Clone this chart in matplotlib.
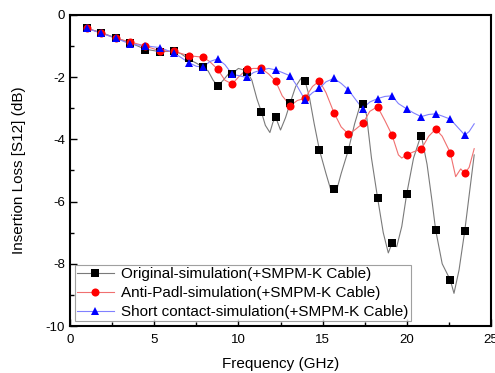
import matplotlib
matplotlib.use("Agg")
import matplotlib.pyplot as plt
from matplotlib.lines import Line2D

plt.rcParams['font.family'] = ['Liberation Sans', 'DejaVu Sans']
plt.rcParams['axes.unicode_minus'] = False

# marker frequencies (GHz)
marker_freq = [1.00, 1.86, 2.73, 3.59, 4.45, 5.32, 6.18, 7.04, 7.90, 8.77, 9.63, 10.49,
               11.36, 12.22, 13.08, 13.95, 14.81, 15.67, 16.53, 17.40, 18.26, 19.12,
               19.99, 20.85, 21.71, 22.58, 23.44]

orig_markers = [-0.43, -0.57, -0.74, -0.90, -1.13, -1.18, -1.16, -1.40, -1.68, -2.28, -1.90, -1.84,
                -3.11, -3.27, -2.82, -2.11, -4.34, -5.60, -4.34, -2.86, -5.87, -7.34,
                -5.76, -3.89, -6.91, -8.52, -6.94]
anti_markers = [-0.43, -0.58, -0.75, -0.87, -1.00, -1.17, -1.16, -1.31, -1.36, -1.75, -2.22, -1.75,
                -1.72, -2.14, -2.92, -2.68, -2.12, -3.14, -3.83, -3.48, -2.95, -3.86,
                -4.50, -4.32, -3.67, -4.43, -5.09]
short_markers = [-0.43, -0.59, -0.75, -0.94, -0.99, -1.05, -1.22, -1.53, -1.68, -1.41, -1.91, -2.01,
                 -1.77, -1.77, -1.96, -2.73, -2.36, -2.04, -2.41, -3.01, -2.69, -2.60,
                 -3.02, -3.27, -3.18, -3.35, -3.86]

# simulated curves
orig_line_f = [1.0, 1.86, 2.73, 3.59, 4.45, 5.32, 6.18, 6.6, 7.04, 7.5, 7.9, 8.2, 8.5, 8.77, 9.1, 9.4,
               9.63, 10.0, 10.49, 10.8, 11.1, 11.36, 11.6, 11.87, 12.05, 12.22, 12.5, 12.8, 13.08,
               13.4, 13.7, 13.95, 14.2, 14.5, 14.81, 15.2, 15.5, 15.8, 16.1, 16.53, 16.9, 17.2,
               17.37, 17.6, 17.9, 18.26, 18.6, 18.9, 19.12, 19.4, 19.7, 19.99, 20.4, 20.85, 21.2,
               21.5, 21.71, 22.1, 22.58, 22.8, 23.1, 23.44, 23.7, 24.0]
orig_line_v = [-0.43, -0.57, -0.74, -0.90, -1.10, -1.18, -1.17, -1.25, -1.42, -1.55, -1.68, -1.80,
               -2.10, -2.28, -2.10, -1.90, -1.88, -1.72, -1.80, -2.10, -2.70, -3.11, -3.55, -3.78,
               -3.45, -3.30, -3.70, -3.30, -2.82, -2.30, -2.05, -2.11, -2.60, -3.50, -4.34, -5.10,
               -5.65, -5.70, -5.10, -4.34, -3.50, -2.95, -2.86, -3.20, -4.60, -5.87, -7.00, -7.65,
               -7.34, -7.45, -6.80, -5.76, -4.60, -3.85, -4.80, -6.00, -6.91, -8.00, -8.52, -8.95,
               -8.20, -6.94, -5.80, -4.50]

anti_line_f = [1.0, 1.86, 2.73, 3.59, 4.45, 5.32, 6.18, 7.04, 7.9, 8.3, 8.77, 9.2, 9.63, 10.0, 10.49,
               10.9, 11.36, 11.8, 12.22, 12.6, 13.08, 13.5, 13.95, 14.4, 14.81, 15.2, 15.67, 16.1,
               16.53, 16.9, 17.4, 17.8, 18.26, 18.7, 19.12, 19.5, 19.7, 19.99, 20.4, 20.85, 21.3,
               21.71, 22.1, 22.58, 22.9, 23.2, 23.44, 23.7, 24.0]
anti_line_v = [-0.43, -0.58, -0.75, -0.87, -1.00, -1.15, -1.17, -1.31, -1.36, -1.50, -1.75, -2.10,
               -2.22, -2.00, -1.75, -1.72, -1.72, -1.90, -2.14, -2.60, -2.92, -2.75, -2.68, -2.30,
               -2.12, -2.50, -3.14, -3.60, -3.83, -3.70, -3.48, -3.10, -2.95, -3.40, -3.86, -4.50,
               -4.60, -4.50, -4.40, -4.32, -3.90, -3.67, -3.90, -4.43, -5.20, -4.95, -5.09, -4.90,
               -4.30]

short_line_f = [1.0, 1.86, 2.73, 3.59, 4.45, 5.32, 6.18, 7.04, 7.5, 7.9, 8.3, 8.77, 9.2, 9.63, 10.0,
                10.49, 10.9, 11.36, 11.8, 12.22, 12.6, 13.08, 13.5, 13.95, 14.4, 14.81, 15.2, 15.67,
                16.1, 16.53, 17.0, 17.37, 17.8, 18.26, 18.7, 19.12, 19.5, 19.99, 20.4, 20.85, 21.3,
                21.71, 22.1, 22.58, 23.0, 23.44, 23.7, 24.0]
short_line_v = [-0.43, -0.59, -0.75, -0.94, -0.99, -1.05, -1.22, -1.53, -1.65, -1.68, -1.50, -1.41,
                -1.60, -1.91, -1.95, -2.01, -1.85, -1.77, -1.72, -1.77, -1.85, -1.96, -2.30, -2.73,
                -2.50, -2.36, -2.15, -2.04, -2.20, -2.41, -2.75, -3.01, -2.80, -2.69, -2.62, -2.60,
                -2.85, -3.02, -3.15, -3.27, -3.20, -3.18, -3.25, -3.35, -3.60, -3.86, -3.75, -3.50]

labels = ["Original-simulation(+SMPM-K Cable)",
          "Anti-Padl-simulation(+SMPM-K Cable)",
          "Short contact-simulation(+SMPM-K Cable)"]

fig = plt.figure(figsize=(4.95, 3.73), dpi=100)
ax = fig.add_axes([0.1414, 0.126, 0.8506, 0.834])

series = [
    (orig_line_f, orig_line_v, orig_markers, '#7a7a7a', 'black', 's', 5.2),
    (anti_line_f, anti_line_v, anti_markers, '#f07070', '#ff0000', 'o', 5.8),
    (short_line_f, short_line_v, short_markers, '#8080ff', '#0000ff', '^', 6.2),
]
handles = []
for (lf, lv, mv, lc, mc, mk, ms), lab in zip(series, labels):
    ax.plot(lf, lv, color=lc, lw=0.8, zorder=2)
    ax.plot(marker_freq, mv, linestyle='none', marker=mk, color=mc, markersize=ms,
            markeredgewidth=0, zorder=3)
    handles.append(Line2D([0], [0], color=lc, lw=0.8, marker=mk, markerfacecolor=mc,
                          markeredgewidth=0, markersize=ms))

ax.set_xlim(0, 25)
ax.set_ylim(-10, 0)
ax.set_xticks([0, 5, 10, 15, 20, 25])
ax.set_xticks([2.5, 7.5, 12.5, 17.5, 22.5], minor=True)
ax.set_yticks([0, -2, -4, -6, -8, -10])
ax.set_yticks([-1, -3, -5, -7, -9], minor=True)
ax.tick_params(which='both', direction='in', top=False, right=False, labelsize=9.5)
ax.tick_params(axis='x', which='major', pad=6)
ax.tick_params(which='major', length=5, width=1)
ax.tick_params(which='minor', length=3, width=1)
for sp in ax.spines.values():
    sp.set_linewidth(1.5)

ax.set_xlabel("Frequency (GHz)", fontsize=11, labelpad=8)
ax.set_ylabel("Insertion Loss [S12] (dB)", fontsize=11, labelpad=14)

leg = ax.legend(handles, labels, loc='lower left', fontsize=11, frameon=True, fancybox=False,
                edgecolor='#888888', borderpad=0.15, labelspacing=0.32, handlelength=2.4,
                handletextpad=0.5, borderaxespad=0.3)
leg.get_frame().set_linewidth(0.8)

fig.savefig("out.png", dpi=100)
